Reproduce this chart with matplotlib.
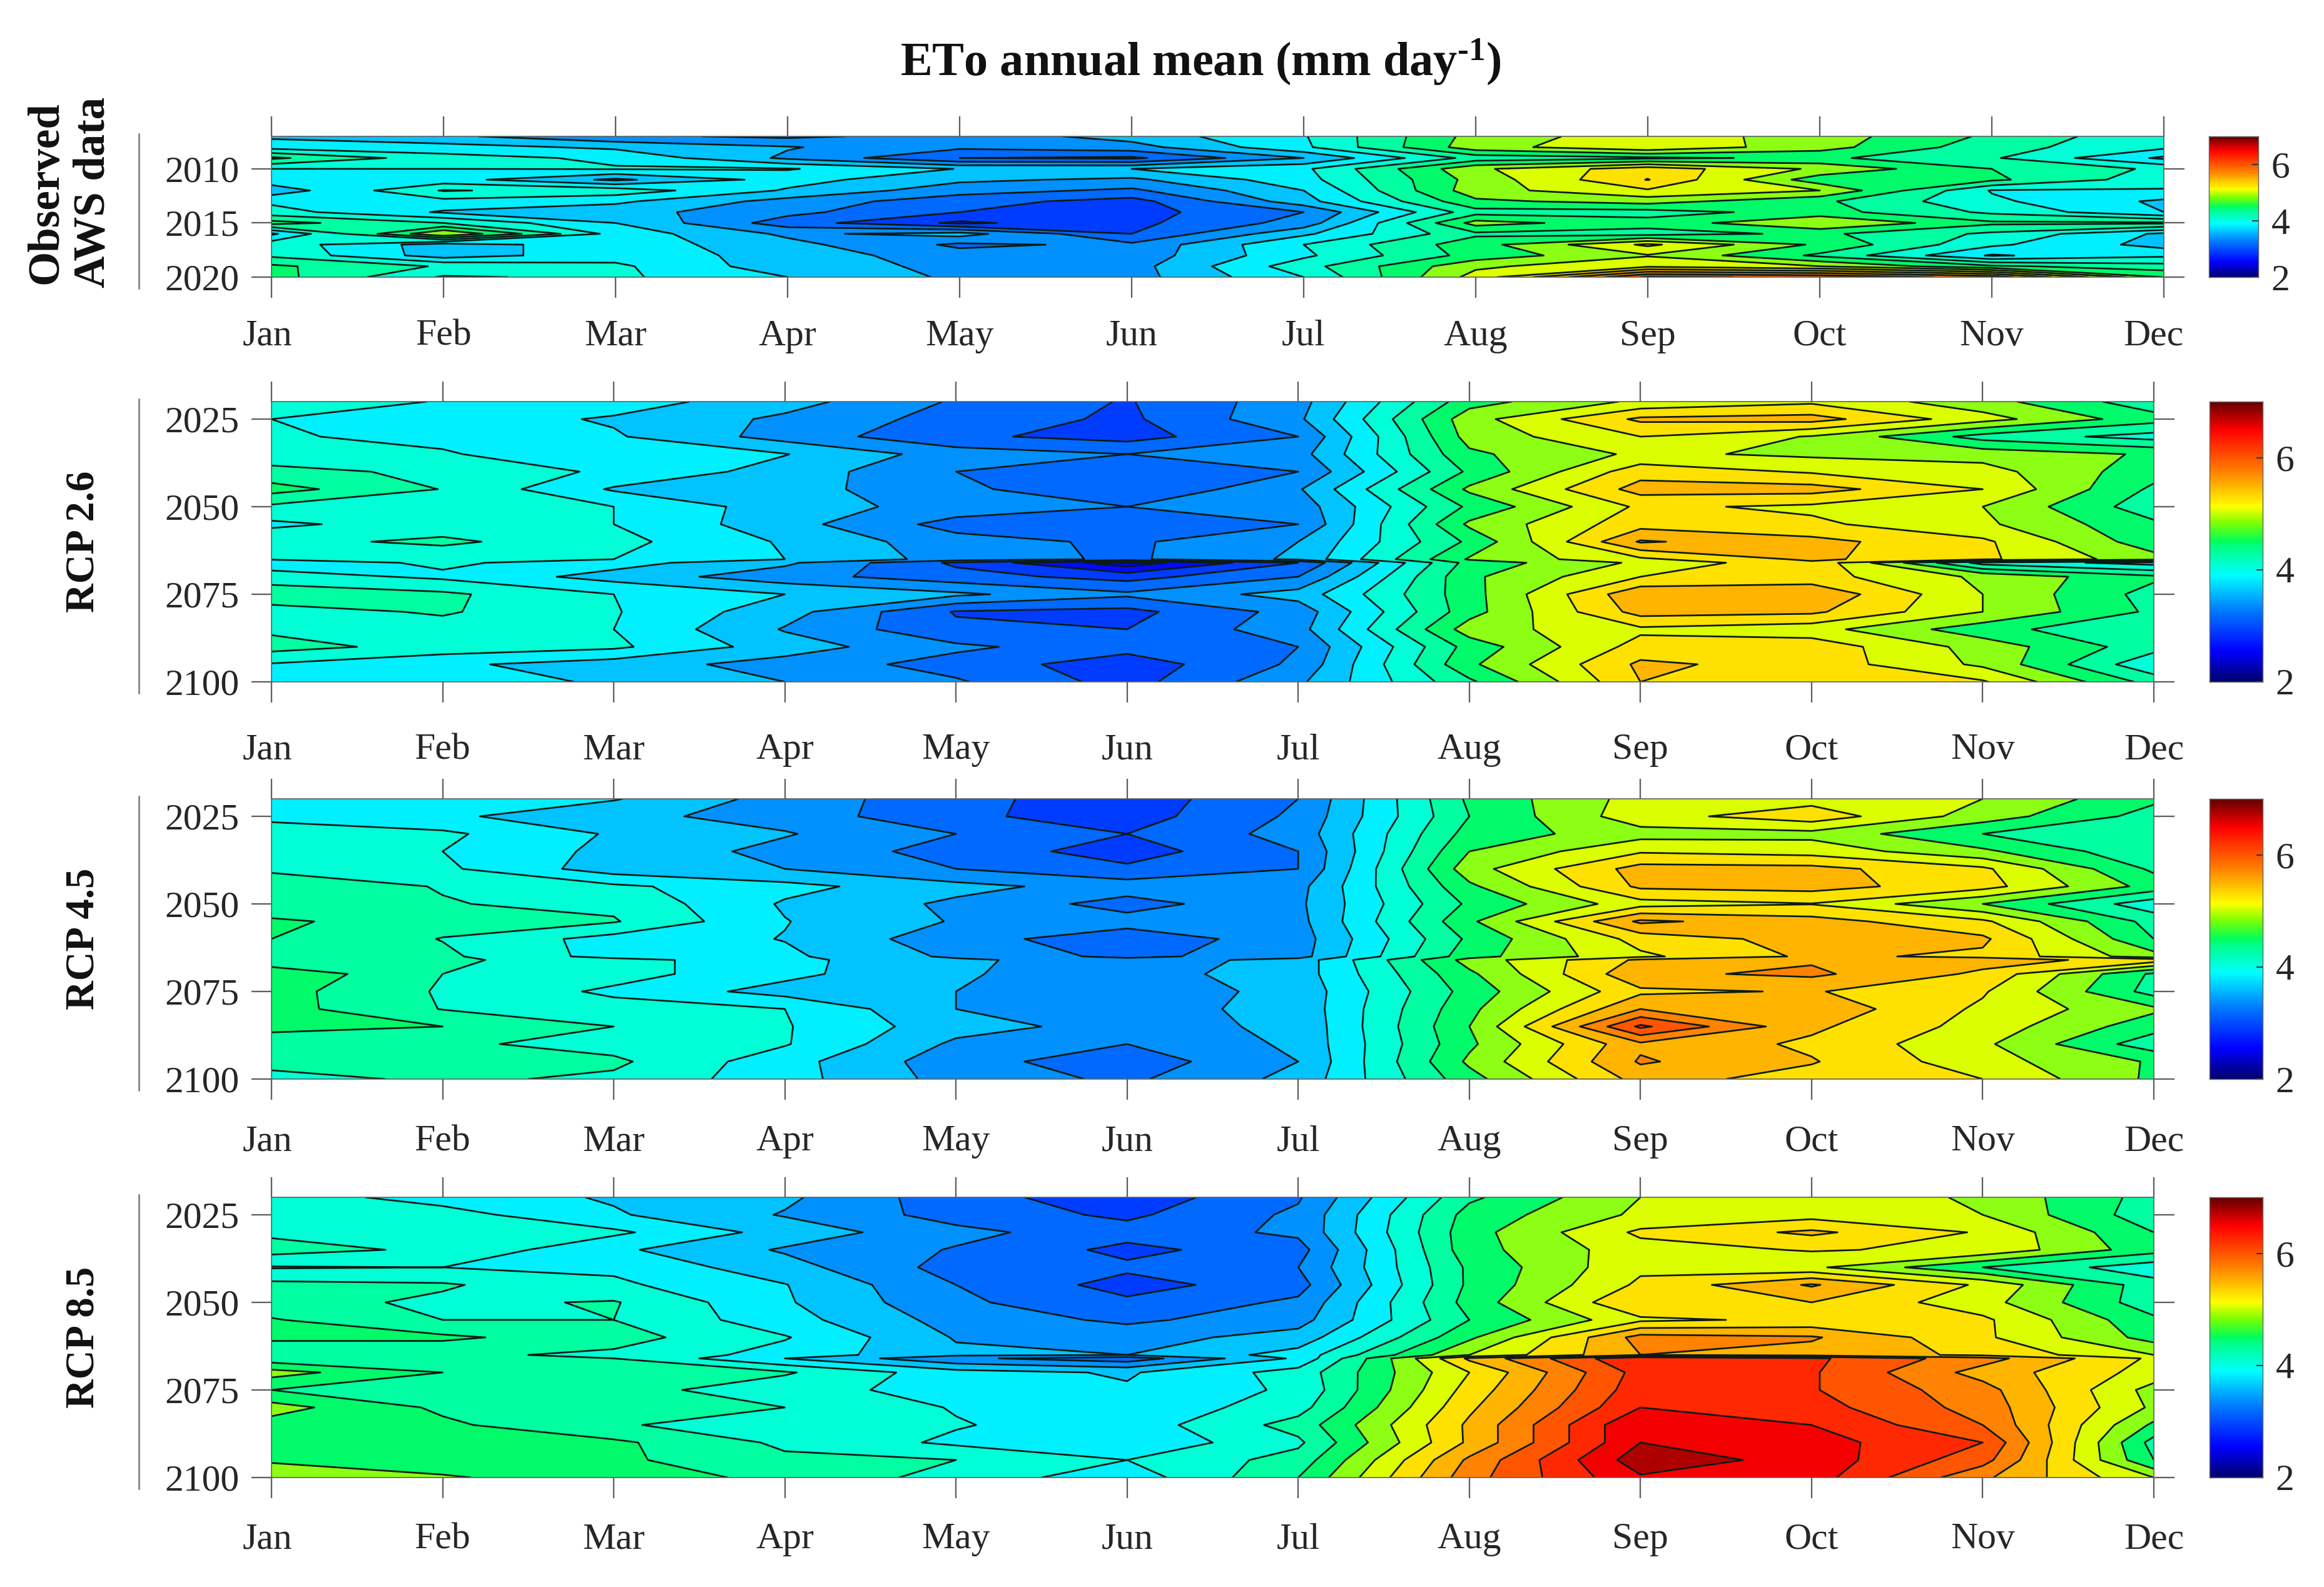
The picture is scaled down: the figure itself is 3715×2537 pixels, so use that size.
import numpy as np
import matplotlib
matplotlib.use("Agg")
import matplotlib.pyplot as plt
from matplotlib.colors import LinearSegmentedColormap
from matplotlib.lines import Line2D
from matplotlib.transforms import ScaledTranslation

MONTHS = ["Jan", "Feb", "Mar", "Apr", "May", "Jun", "Jul", "Aug", "Sep", "Oct", "Nov", "Dec"]
YEARS_OBS = list(range(2007, 2021))
YEARS_RCP = [2020, 2025, 2030, 2035, 2040, 2045, 2050, 2055, 2060, 2065, 2066,
             2070, 2075, 2080, 2085, 2090, 2095, 2100]
LEVELS = [2 + 0.25 * i for i in range(21)]
TICKS_OBS = [2010, 2015, 2020]
TICKS_RCP = [2025, 2050, 2075, 2100]

OBS = [
    [3.70, 3.55, 3.30, 3.20, 3.35, 3.60, 3.98, 4.85, 5.15, 4.88, 4.45, 4.05],
    [3.90, 3.85, 3.70, 3.52, 3.30, 3.40, 3.95, 4.90, 5.20, 4.85, 4.35, 4.05],
    [4.55, 4.10, 3.95, 3.45, 3.00, 2.95, 3.50, 4.35, 4.45, 4.55, 4.28, 3.70],
    [4.00, 4.00, 4.02, 4.02, 3.74, 3.75, 3.95, 4.95, 5.40, 4.95, 4.50, 4.20],
    [3.90, 3.85, 3.45, 3.85, 3.55, 3.45, 3.90, 4.85, 5.51, 4.60, 4.55, 4.10],
    [3.60, 4.27, 4.15, 3.72, 3.35, 3.20, 3.75, 4.90, 5.22, 5.00, 3.98, 3.98],
    [3.95, 3.92, 3.80, 3.40, 3.10, 2.90, 3.65, 4.70, 4.85, 4.55, 4.05, 3.70],
    [4.10, 3.72, 3.60, 3.32, 3.00, 2.90, 3.25, 4.40, 4.40, 4.60, 4.20, 3.75],
    [4.60, 4.25, 3.75, 3.12, 2.70, 2.93, 3.35, 4.85, 4.60, 5.00, 4.55, 4.55],
    [3.70, 5.00, 3.90, 3.45, 3.60, 3.00, 3.70, 4.45, 4.40, 4.55, 4.20, 3.70],
    [4.15, 3.62, 3.90, 3.58, 3.20, 3.30, 4.00, 4.65, 5.30, 4.70, 4.05, 3.65],
    [4.20, 3.62, 3.90, 3.65, 3.35, 3.35, 3.95, 4.60, 4.98, 4.45, 3.72, 3.95],
    [4.55, 4.22, 4.05, 3.60, 3.45, 3.40, 4.15, 4.95, 5.20, 5.00, 4.55, 4.35],
    [4.60, 3.97, 4.05, 3.75, 3.45, 3.40, 4.00, 5.10, 6.30, 6.20, 5.90, 4.75],
]
RCP26 = [
    [4.20, 3.98, 3.87, 3.60, 3.22, 2.98, 3.40, 4.65, 5.05, 5.20, 4.85, 4.35],
    [4.00, 3.88, 3.72, 3.45, 3.15, 2.95, 3.45, 4.90, 5.55, 5.60, 5.10, 4.60],
    [4.02, 3.95, 3.78, 3.40, 3.05, 2.90, 3.25, 4.85, 5.25, 4.98, 4.40, 4.15],
    [4.12, 4.02, 3.85, 3.76, 3.38, 3.25, 3.40, 4.70, 5.05, 4.95, 4.90, 4.72],
    [4.32, 4.20, 3.95, 3.65, 3.25, 3.10, 3.25, 4.55, 5.40, 5.22, 5.10, 4.60],
    [4.60, 4.24, 3.72, 3.60, 3.32, 3.00, 3.47, 4.80, 5.60, 5.60, 5.25, 4.45],
    [4.20, 4.15, 4.00, 3.62, 3.40, 3.25, 3.35, 4.55, 5.30, 5.20, 5.00, 4.35],
    [3.95, 4.12, 4.00, 3.60, 3.15, 3.00, 3.25, 4.80, 5.40, 5.30, 5.05, 4.55],
    [4.18, 4.30, 4.08, 3.72, 3.35, 3.20, 3.50, 4.55, 5.78, 5.58, 5.30, 4.60],
    [4.02, 4.08, 4.00, 3.75, 3.40, 3.20, 3.55, 4.78, 5.20, 5.55, 5.30, 4.85],
    [3.85, 4.05, 3.85, 3.55, 2.95, 2.35, 3.00, 4.60, 5.05, 5.45, 4.15, 3.90],
    [4.12, 3.95, 3.65, 3.35, 3.10, 2.90, 3.25, 4.70, 5.25, 5.35, 4.95, 4.55],
    [4.40, 4.30, 4.00, 3.75, 3.55, 3.30, 3.60, 4.65, 5.70, 5.70, 5.00, 4.40],
    [4.15, 4.28, 4.02, 3.60, 2.98, 2.92, 3.35, 4.65, 5.60, 5.55, 5.00, 4.45],
    [4.20, 4.15, 4.00, 3.48, 3.05, 3.00, 3.40, 4.88, 5.20, 5.10, 4.60, 4.25],
    [4.35, 4.15, 4.05, 3.62, 3.30, 3.10, 3.25, 4.60, 5.35, 5.40, 4.90, 4.35],
    [3.98, 3.80, 3.62, 3.40, 3.15, 2.85, 3.30, 4.70, 5.55, 5.40, 4.95, 4.05],
    [3.90, 3.85, 3.72, 3.50, 3.28, 2.90, 3.45, 4.45, 5.50, 5.40, 5.28, 4.40],
]
RCP45 = [
    [3.92, 3.85, 3.77, 3.40, 3.08, 2.85, 3.25, 4.55, 5.10, 5.15, 5.00, 4.55],
    [3.95, 3.80, 3.57, 3.40, 3.05, 2.88, 3.30, 4.50, 5.15, 5.40, 4.88, 4.40],
    [4.10, 4.05, 3.72, 3.52, 3.25, 3.00, 3.35, 4.60, 4.90, 4.92, 4.50, 4.30],
    [4.12, 4.00, 3.68, 3.42, 3.15, 2.88, 3.25, 4.75, 5.22, 5.15, 4.80, 4.30],
    [4.22, 4.05, 3.62, 3.50, 3.25, 3.05, 3.25, 4.90, 5.60, 5.58, 5.30, 4.45],
    [4.35, 4.24, 4.05, 3.83, 3.58, 3.38, 3.42, 4.70, 5.55, 5.60, 5.35, 4.65],
    [4.28, 4.26, 4.20, 3.72, 3.45, 3.15, 3.45, 4.55, 5.15, 5.24, 4.75, 4.10],
    [4.55, 4.35, 4.27, 3.76, 3.48, 3.35, 3.42, 4.70, 5.80, 5.60, 5.30, 4.40],
    [4.50, 4.24, 3.90, 3.74, 3.35, 3.10, 3.38, 4.55, 5.35, 5.60, 5.55, 4.50],
    [4.40, 4.30, 3.90, 3.80, 3.45, 3.18, 3.40, 4.65, 5.20, 5.55, 5.45, 4.85],
    [4.30, 4.30, 4.10, 3.82, 3.55, 3.35, 3.60, 4.85, 5.55, 5.72, 5.60, 5.40],
    [4.70, 4.25, 4.10, 3.82, 3.52, 3.40, 3.62, 4.70, 5.70, 5.80, 5.45, 4.45],
    [4.60, 4.22, 3.95, 3.65, 3.50, 3.35, 3.58, 4.60, 5.45, 5.52, 5.28, 4.40],
    [4.60, 4.24, 4.10, 4.00, 3.50, 3.40, 3.58, 4.68, 5.75, 5.68, 5.20, 4.80],
    [4.55, 4.50, 4.25, 4.02, 3.60, 3.40, 3.55, 4.75, 6.30, 5.55, 5.15, 4.60],
    [4.40, 4.30, 4.15, 4.02, 3.45, 3.25, 3.55, 4.70, 5.70, 5.45, 5.05, 4.35],
    [4.35, 4.32, 4.30, 3.85, 3.35, 3.10, 3.50, 4.80, 5.78, 5.52, 5.10, 4.72],
    [4.15, 4.30, 4.20, 3.85, 3.40, 3.20, 3.58, 4.65, 5.60, 5.40, 5.25, 4.70],
]
RCP85 = [
    [4.12, 3.90, 3.72, 3.55, 3.10, 2.85, 3.22, 4.45, 5.00, 5.20, 4.95, 4.40],
    [4.15, 4.10, 3.78, 3.48, 3.15, 2.95, 3.30, 4.60, 5.05, 5.15, 5.00, 4.35],
    [4.20, 4.10, 4.05, 3.65, 3.32, 3.10, 3.30, 4.65, 5.30, 5.55, 5.22, 4.50],
    [4.35, 4.20, 3.80, 3.47, 3.23, 2.93, 3.15, 4.65, 5.15, 5.27, 5.20, 4.60],
    [3.98, 4.00, 3.95, 3.60, 3.15, 3.05, 3.25, 4.55, 5.20, 5.05, 4.50, 4.10],
    [4.32, 4.28, 4.05, 3.76, 3.25, 2.90, 3.15, 4.55, 5.30, 5.78, 5.20, 4.35],
    [4.35, 4.20, 4.27, 3.78, 3.30, 3.05, 3.30, 4.60, 5.50, 5.50, 5.10, 4.35],
    [4.52, 4.25, 4.25, 3.85, 3.40, 3.20, 3.40, 4.50, 5.20, 5.30, 5.30, 4.55],
    [4.55, 4.55, 4.35, 4.02, 3.48, 3.40, 3.60, 4.70, 5.85, 5.78, 5.30, 4.65],
    [4.30, 4.30, 4.20, 3.90, 3.55, 3.50, 3.85, 5.00, 5.75, 5.65, 5.45, 5.00],
    [4.35, 4.40, 4.25, 3.75, 3.30, 3.10, 3.80, 5.55, 6.50, 6.30, 5.85, 5.20],
    [4.85, 4.50, 4.32, 4.28, 3.85, 3.72, 4.10, 5.25, 6.35, 6.28, 5.65, 5.15],
    [4.50, 4.50, 4.35, 4.10, 3.90, 3.78, 4.05, 5.35, 6.40, 6.27, 5.85, 4.90],
    [4.85, 4.45, 4.35, 4.25, 3.98, 3.80, 4.15, 5.45, 6.50, 6.35, 5.90, 4.95],
    [4.65, 4.55, 4.27, 4.15, 4.02, 3.85, 4.35, 5.55, 6.75, 6.50, 6.00, 4.70],
    [4.65, 4.65, 4.55, 4.20, 3.95, 3.80, 4.20, 5.55, 6.75, 6.60, 6.25, 4.40],
    [4.72, 4.60, 4.55, 4.30, 4.25, 4.00, 4.35, 5.80, 6.90, 6.65, 6.10, 4.50],
    [4.90, 4.78, 4.60, 4.45, 4.15, 3.85, 4.50, 5.90, 6.72, 6.62, 5.80, 5.00],
]

W, H = 3715, 2537
DPI = 300
plt.rcParams.update({
    "font.family": ["Liberation Serif", "DejaVu Serif"],
    "mathtext.fontset": "custom",
    "mathtext.rm": "Liberation Serif:bold",
    "mathtext.default": "rm",
})

BAND_COLORS = [(0, 0, 150), (0, 0, 215), (0, 10, 255), (0, 60, 255), (0, 105, 255),
               (0, 145, 255), (0, 195, 255), (0, 240, 255), (0, 255, 215), (0, 255, 160),
               (0, 250, 105), (140, 255, 20), (220, 255, 0), (255, 225, 0), (255, 180, 0),
               (255, 130, 0), (255, 85, 0), (255, 40, 0), (245, 0, 0), (175, 0, 0)]
BAND_COLORS = [tuple(c / 255 for c in col) for col in BAND_COLORS]
BAR_STOPS = [(2.0, (0, 0, 110)), (2.54, (0, 0, 255)), (3.3, (0, 128, 255)), (3.9, (0, 255, 255)),
             (4.42, (0, 255, 130)), (4.5, (0, 255, 90)), (4.85, (130, 255, 0)), (5.13, (255, 255, 0)),
             (5.76, (255, 128, 0)), (6.5, (255, 0, 0)), (7.0, (100, 0, 0))]
bar_cmap = LinearSegmentedColormap.from_list(
    "eto", [((v - 2) / 5, tuple(c / 255 for c in col)) for v, col in BAR_STOPS])


def box(x0, x1, y0, y1):
    return [x0 / W, 1 - y1 / H, (x1 - x0) / W, (y1 - y0) / H]


PANELS = [
    (OBS, YEARS_OBS, TICKS_OBS, 3459, 218, 443, 3531, 3610, "Observed\nAWS data", 112, 308, 17.0, 8.5, 17),
    (RCP26, YEARS_RCP, TICKS_RCP, 3443, 642, 1090, 3532, 3617, "RCP 2.6", 133, 866, 15.5, 12, 0),
    (RCP45, YEARS_RCP, TICKS_RCP, 3443, 1277, 1725, 3532, 3617, "RCP 4.5", 133, 1501, 15.5, 9.8, 0),
    (RCP85, YEARS_RCP, TICKS_RCP, 3443, 1914, 2362, 3532, 3617, "RCP 8.5", 133, 2138, 15.5, 9.5, 0),
]

fig = plt.figure(figsize=(W / DPI, H / DPI), dpi=DPI)
GREY = "#5f5f5f"
TXT = "#262626"
for Z, years, yticks, xr, y0, y1, cx0, cx1, label, lx, ly, lsize, xpad, dec_shift in PANELS:
    ax = fig.add_axes(box(434, xr, y0, y1))
    x = np.arange(12)
    z = np.array(Z)
    ax.contourf(x, years, z, levels=LEVELS, colors=BAND_COLORS)
    ax.contour(x, years, z, levels=LEVELS, colors="#0c1a14", linewidths=0.65)
    ax.set_xlim(0, 11)
    ax.set_ylim(years[-1], years[0])
    ax.set_xticks(x)
    ax.set_xticklabels(MONTHS)
    ax.set_yticks(yticks)
    ax.tick_params(axis="both", direction="out", length=7.8, width=0.55, color=GREY,
                   labelsize=14.3, labelcolor=TXT, top=True, right=True)
    ax.tick_params(axis="x", pad=xpad)
    ax.tick_params(axis="y", pad=4.5)
    labels = ax.get_xticklabels()
    labels[0].set_transform(labels[0].get_transform() + ScaledTranslation(-7 / DPI, 0, fig.dpi_scale_trans))
    labels[11].set_transform(labels[11].get_transform() + ScaledTranslation(-dec_shift / DPI, 0, fig.dpi_scale_trans))
    for s in ax.spines.values():
        s.set_color(GREY)
        s.set_linewidth(0.4)
    fig.add_artist(Line2D([222 / W, 222 / W], [1 - (y0 - 4) / H, 1 - (y1 + 18) / H],
                          color="#777777", lw=0.6))
    fig.text(lx / W, 1 - ly / H, label, rotation=90, ha="center", va="center",
             fontsize=lsize, fontweight="bold", color="#111111", linespacing=1.2)

    cax = fig.add_axes(box(cx0, cx1, y0, y1))
    cax.imshow(np.linspace(7, 2, 512)[:, None], cmap=bar_cmap, vmin=2, vmax=7,
               aspect="auto", extent=[0, 1, 2, 7])
    cax.set_xticks([])
    cax.yaxis.tick_right()
    cax.set_yticks([2, 4, 6])
    cax.tick_params(axis="y", direction="in", length=2.5, width=0.5, color="#333333",
                    labelsize=14.3, labelcolor=TXT, pad=5)
    for s in cax.spines.values():
        s.set_color("#666666")
        s.set_linewidth(0.35)

fig.text(1919 / W, 1 - 99 / H, r"ETo annual mean (mm day$^{\text{-1}}$)", ha="center", va="center",
         fontsize=18.3, fontweight="bold", color="#111111")

fig.savefig("out.png", dpi=DPI)
